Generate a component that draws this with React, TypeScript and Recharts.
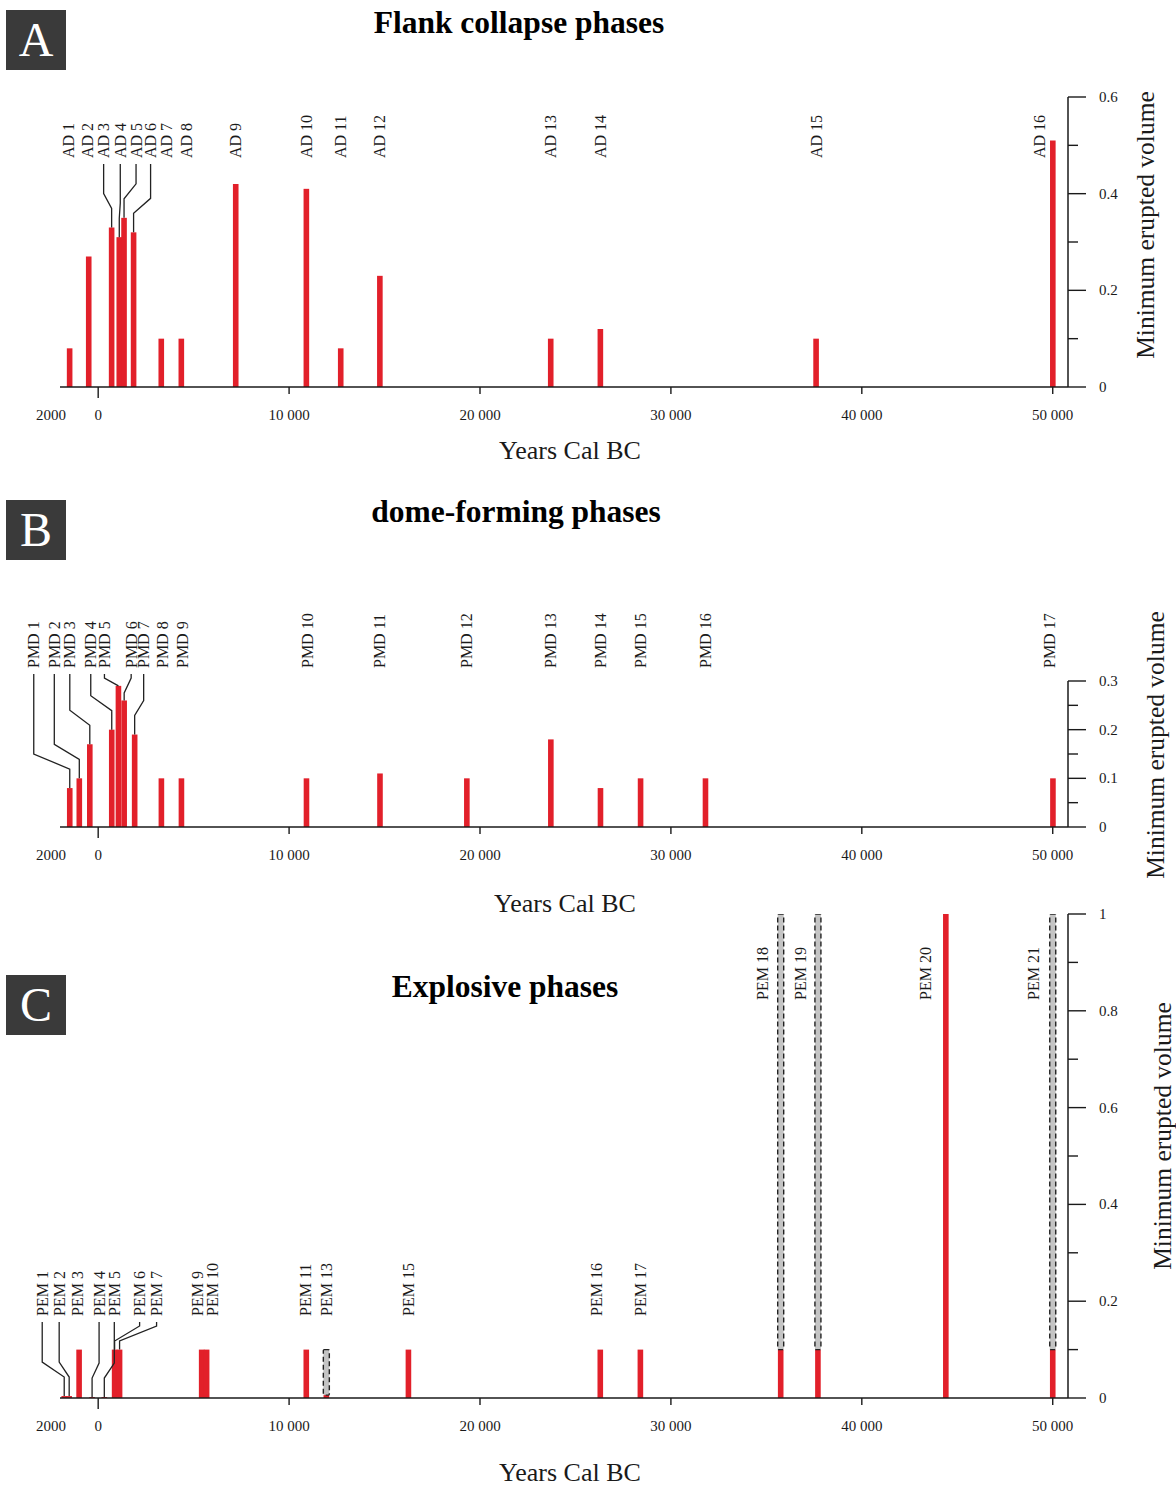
import React from 'react';
import { ComposedChart, Bar, XAxis, YAxis, LabelList } from 'recharts';

const FONT = '"Liberation Serif", "Times New Roman", serif';
const RED = '#e2202a';
const INK = '#1a1a1a';

// A – flank collapse phases
const adNames = ['AD 1', 'AD 2', 'AD 3', 'AD 4', 'AD 5', 'AD 6', 'AD 7', 'AD 8', 'AD 9', 'AD 10', 'AD 11', 'AD 12', 'AD 13', 'AD 14', 'AD 15', 'AD 16'];
const adYears = [-1500, -500, 700, 1100, 1350, 1850, 3300, 4350, 7200, 10900, 12700, 14750, 23700, 26300, 37600, 50000];
const adVolumes = [0.08, 0.27, 0.33, 0.31, 0.35, 0.32, 0.1, 0.1, 0.42, 0.41, 0.08, 0.23, 0.1, 0.12, 0.1, 0.51];

// B – dome-forming phases
const pmdNames = ['PMD 1', 'PMD 2', 'PMD 3', 'PMD 4', 'PMD 5', 'PMD 6', 'PMD 7', 'PMD 8', 'PMD 9', 'PMD 10', 'PMD 11', 'PMD 12', 'PMD 13', 'PMD 14', 'PMD 15', 'PMD 16', 'PMD 17'];
const pmdYears = [-1500, -1000, -450, 700, 1050, 1350, 1900, 3300, 4350, 10900, 14750, 19300, 23700, 26300, 28400, 31800, 50000];
const pmdVolumes = [0.08, 0.1, 0.17, 0.2, 0.29, 0.26, 0.19, 0.1, 0.1, 0.1, 0.11, 0.1, 0.18, 0.08, 0.1, 0.1, 0.1];

// C – explosive phases (uncertain part drawn dashed grey)
const pemNames = ['PEM 1', 'PEM 2', 'PEM 3', 'PEM 4', 'PEM 5', 'PEM 6', 'PEM 7', 'PEM 9', 'PEM 10', 'PEM 11', 'PEM 13', 'PEM 15', 'PEM 16', 'PEM 17', 'PEM 18', 'PEM 19', 'PEM 20', 'PEM 21'];
const pemYears = [-1780, -1520, -1000, -320, 320, 860, 1120, 5420, 5680, 10900, 11950, 16250, 26300, 28400, 35750, 37700, 44400, 50000];
const pemVolumes = [0.004, 0.004, 0.1, 0.002, 0.002, 0.1, 0.1, 0.1, 0.1, 0.1, 0.006, 0.1, 0.1, 0.1, 0.1, 0.1, 1, 0.1];
const pemUncertain = [0, 0, 0, 0, 0, 0, 0, 0, 0, 0, 0.094, 0, 0, 0, 0.9, 0.9, 0, 0.9];

const yearTicks = [-2000, 0, 10000, 20000, 30000, 40000, 50000];
const volTicksA = [0, 0.1, 0.2, 0.3, 0.4, 0.5, 0.6];
const volMajorsA = [0, 0.2, 0.4, 0.6];
const volTicksB = [0, 0.05, 0.1, 0.15, 0.2, 0.25, 0.3];
const volMajorsB = [0, 0.1, 0.2, 0.3];
const volTicksC = [0, 0.1, 0.2, 0.3, 0.4, 0.5, 0.6, 0.7, 0.8, 0.9, 1];
const volMajorsC = [0, 0.2, 0.4, 0.6, 0.8, 1];

// label placement (px shift of the label from its bar, which ones get a leader)
const adShift = [-1, -1, -8, 1, 12, 17, 5, 5, 0, 0, 0, 0, 0, 0, 0, -13];
const adLeaders = [2, 3, 4, 5];
const pmdShift = [-36, -25, -20, -21, -14, 7, 9, 1, 1, 1, 0, 0, 0, 0, 0, 0, -3];
const pmdLeaders = [0, 1, 2, 3, 4, 5, 6];
const pemShift = [-22, -10, -2, 7, 10, 25, 37, -4, 6, -1, 0, 0, -4, 0, -18, -17, -20, -19];
const pemLeaders = [0, 1, 3, 4, 5, 6];
const pemRaised = [14, 15, 16, 17];

const adData = adYears.map((year, i) => ({ year, vol: adVolumes[i] }));
const pmdData = pmdYears.map((year, i) => ({ year, vol: pmdVolumes[i] }));
const pemData = pemYears.map((year, i) => ({ year, vol: pemVolumes[i], unc: pemUncertain[i] }));

const SolidBar = (p: any) => {
  if (!p.height || p.height <= 0) return null;
  const cx = p.x + p.width / 2;
  return <rect x={cx - 2.8} y={p.y} width={5.6} height={p.height} fill={RED} />;
};

const DashedBar = (p: any) => {
  if (!p.height || p.height <= 0.5) return null;
  const cx = p.x + p.width / 2;
  return (
    <rect x={cx - 3} y={p.y} width={6} height={p.height} fill="#c4c4c4"
      stroke="#222" strokeWidth={1.4} strokeDasharray="5 3" rx={1} />
  );
};

const YearTick = (props: any) => {
  const { x, y, payload } = props;
  const v = payload.value;
  const label = v < 0 ? String(-v) : v === 0 ? '0' : `${v / 1000} 000`;
  return (
    <g>
      {v >= 0 && <line x1={x} y1={y} x2={x} y2={y + (v === 0 ? 11 : 7)} stroke={INK} strokeWidth={1.4} />}
      <text x={v < 0 ? x - 9 : x} y={y + 28} textAnchor="middle" dominantBaseline="central"
        fontFamily={FONT} fontSize={15} fill={INK}>{label}</text>
    </g>
  );
};

const VolTick = (props: any) => {
  const { x, y, payload, majors } = props;
  const v = payload.value;
  const major = majors.includes(v);
  return (
    <g>
      <line x1={x} y1={y} x2={x + (major ? 18 : 10)} y2={y} stroke={INK} strokeWidth={1.4} />
      {major && (
        <text x={x + 31} y={y} dominantBaseline="central" fontFamily={FONT} fontSize={15} fill={INK}>
          {String(v)}
        </text>
      )}
    </g>
  );
};

const VolTitle = (props: any) => {
  const vb = props.viewBox;
  const cx = vb.x + props.ox;
  const cy = vb.y + vb.height / 2 + props.oy;
  return (
    <text x={cx} y={cy} transform={`rotate(-90 ${cx} ${cy})`} textAnchor="middle" dominantBaseline="central"
      fontFamily={FONT} fontSize={25.5} fill={INK}>Minimum erupted volume</text>
  );
};

const YearsTitle = (props: any) => {
  const vb = props.viewBox;
  return (
    <text x={vb.x + vb.width / 2 + props.ox} y={vb.y + props.oy} textAnchor="middle" dominantBaseline="central"
      fontFamily={FONT} fontSize={26} fill={INK}>Years Cal BC</text>
  );
};

function phaseLabel(names: string[], shift: number[], leaders: number[], rowY: number, raised: number[] = []) {
  return (props: any) => {
    const vb = props.viewBox ?? props;
    const i = props.index;
    const bx = vb.x + vb.width / 2;
    const top = vb.y;
    const lx = bx + shift[i];
    const ly = raised.includes(i) ? top + 86 : rowY;
    let leader = null;
    if (leaders.includes(i)) {
      const start = ly + 6;
      const knee = Math.max(start + 4, top - 34);
      const bend = Math.min(knee + 15, top);
      leader = (
        <polyline points={`${lx},${start} ${lx},${knee} ${bx},${bend} ${bx},${top}`}
          fill="none" stroke="#222" strokeWidth={1.3} />
      );
    }
    return (
      <g>
        <text x={lx} y={ly} transform={`rotate(-90 ${lx} ${ly})`} textAnchor="start" dominantBaseline="central"
          fontFamily={FONT} fontSize={16} fill={INK}>{names[i]}</text>
        {leader}
      </g>
    );
  };
}

const axisLine = { stroke: INK, strokeWidth: 1.5 };

function Panel(props: {
  top: number; height: number; marginTop: number; xHeight: number; data: any[];
  ticks: number[]; majors: number[]; yMax: number; label: any;
  volTitle: [number, number]; yearsTitle: [number, number]; stacked?: boolean;
}) {
  const { top, height, marginTop, xHeight, data, ticks, majors, yMax, label, volTitle, yearsTitle, stacked } = props;
  return (
    <div style={{ position: 'absolute', left: 0, top }}>
      <ComposedChart width={1176} height={height} data={data}
        margin={{ top: marginTop, right: 0, bottom: 0, left: 60 }}>
        <XAxis dataKey="year" type="number" domain={[-2000, 50800]} allowDataOverflow ticks={yearTicks}
          interval={0} tickLine={false} tickSize={0} tickMargin={0} axisLine={axisLine} height={xHeight}
          tick={<YearTick />} label={<YearsTitle ox={yearsTitle[0]} oy={yearsTitle[1]} />} />
        <YAxis orientation="right" type="number" domain={[0, yMax]} allowDataOverflow ticks={ticks} interval={0}
          width={108} tickLine={false} tickSize={0} tickMargin={0} axisLine={axisLine}
          tick={<VolTick majors={majors} />} label={<VolTitle ox={volTitle[0]} oy={volTitle[1]} />} />
        {stacked ? (
          <>
            <Bar dataKey="vol" stackId="s" shape={SolidBar} isAnimationActive={false} />
            <Bar dataKey="unc" stackId="s" shape={DashedBar} isAnimationActive={false}>
              <LabelList dataKey="unc" content={label} />
            </Bar>
          </>
        ) : (
          <Bar dataKey="vol" shape={SolidBar} isAnimationActive={false}>
            <LabelList dataKey="vol" content={label} />
          </Bar>
        )}
      </ComposedChart>
    </div>
  );
}

const letterBox = (letter: string, top: number) => (
  <div style={{
    position: 'absolute', left: 6, top, width: 60, height: 60, background: '#3a3a3a', color: '#fff',
    fontFamily: FONT, fontSize: 48, lineHeight: '60px', textAlign: 'center',
  }}>{letter}</div>
);

const title = (text: string, cx: number, cy: number) => (
  <div style={{
    position: 'absolute', left: cx - 300, top: cy - 18, width: 600, height: 36, lineHeight: '36px',
    textAlign: 'center', fontFamily: FONT, fontWeight: 'bold', fontSize: 31.5, color: '#000',
  }}>{text}</div>
);

export default function App() {
  return (
    <div style={{ position: 'absolute', left: 0, top: 0, width: 1176, height: 1485, background: '#fff' }}>
      <Panel top={0} height={470} marginTop={97} xHeight={83} data={adData} ticks={volTicksA} majors={volMajorsA}
        yMax={0.6} label={phaseLabel(adNames, adShift, adLeaders, 158)} volTitle={[77, -17]} yearsTitle={[6, 63]} />
      <Panel top={480} height={450} marginTop={201} xHeight={103} data={pmdData} ticks={volTicksB} majors={volMajorsB}
        yMax={0.3} label={phaseLabel(pmdNames, pmdShift, pmdLeaders, 188)} volTitle={[87, -9]} yearsTitle={[1, 76]} />
      <Panel top={860} height={625} marginTop={54} xHeight={87} data={pemData} ticks={volTicksC} majors={volMajorsC}
        yMax={1} label={phaseLabel(pemNames, pemShift, pemLeaders, 456, pemRaised)} volTitle={[94, -20]}
        yearsTitle={[6, 74]} stacked />
      {letterBox('A', 10)}
      {letterBox('B', 500)}
      {letterBox('C', 975)}
      {title('Flank collapse phases', 519, 23)}
      {title('dome-forming phases', 516, 512)}
      {title('Explosive phases', 505, 987)}
    </div>
  );
}
